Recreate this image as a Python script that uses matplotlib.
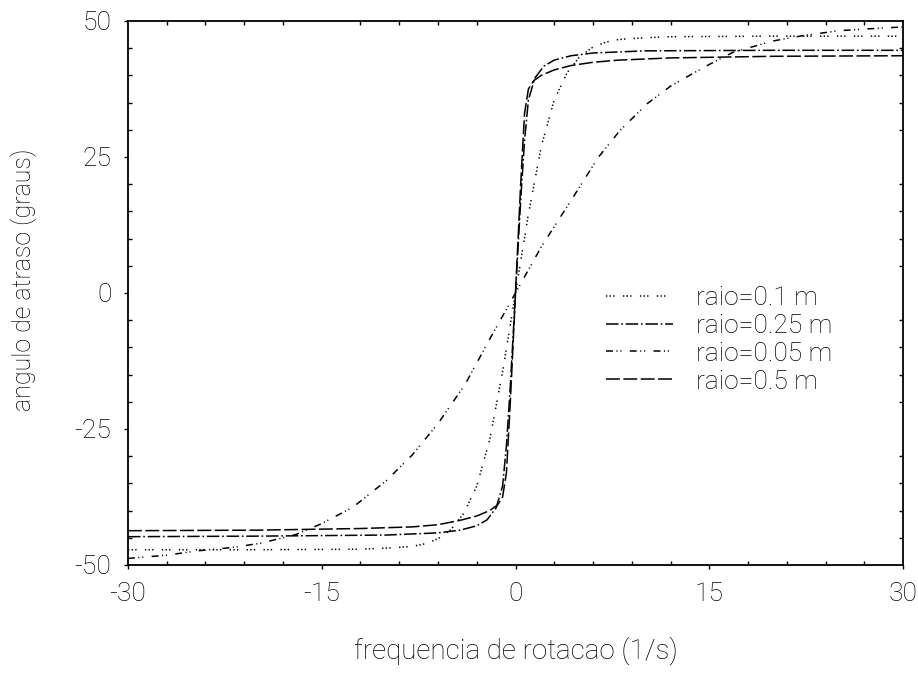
import matplotlib
matplotlib.use("Agg")
import matplotlib.pyplot as plt
from matplotlib.ticker import MultipleLocator

# --- data ------------------------------------------------------------------
x_r005 = [-30, -27, -24.6, -22, -19.7, -17, -15.1, -12.6, -10, -8, -6, -3.9, -2,
          0, 2, 4.3, 6.4, 8.1, 10.2, 12, 13.7, 15, 16.8, 19.9, 22, 25, 27, 30]
y_r005 = [-48.8, -48.2, -47.4, -46.8, -46.0, -44.4, -42.5, -39.4, -34.5, -29.8,
          -24.0, -16.8, -8.5, 0, 8.5, 17.0, 24.9, 29.9, 34.8, 38.0, 40.3, 42.0,
          44.2, 46.3, 47.2, 48.2, 48.5, 48.9]

x_r01 = [-30, -20, -12, -10, -8, -7, -6, -5, -4, -3, -2, -1, 0,
         1, 2, 3, 4, 5, 6, 7, 8, 10, 12, 20, 30]
y_r01 = [-47.2, -47.2, -47.1, -46.9, -46.6, -46.1, -45.2, -43.5, -40.5, -35.5,
         -27.0, -14.5, 0, 14.5, 27.0, 35.5, 40.5, 43.5, 45.2, 46.1, 46.6, 46.9,
         47.1, 47.2, 47.2]

x_r025 = [-30, -20, -10, -6, -4.3, -3, -2.2, -1.5, -1.0, -0.7, -0.4, 0,
          0.4, 0.7, 1.0, 1.5, 2.2, 3, 4.3, 6, 10, 20, 30]
y_r025 = [-44.8, -44.7, -44.5, -44.1, -43.6, -42.8, -41.7, -39.5, -35.5, -28.0,
          -17.0, 0, 17.0, 28.0, 35.5, 39.5, 41.7, 42.8, 43.6, 44.1, 44.5, 44.6,
          44.6]

x_r05 = [-30, -20, -12, -8, -6, -4.3, -3, -2, -1.4, -1.0, -0.7, -0.4, 0,
         0.4, 0.7, 1.0, 1.4, 2, 3, 4.3, 6, 8, 12, 20, 30]
y_r05 = [-43.7, -43.6, -43.3, -43.0, -42.6, -41.8, -41.0, -40.0, -39.0, -37.5,
         -33.0, -20.0, 0, 20.0, 33.0, 37.5, 39.0, 40.0, 41.0, 41.8, 42.4, 42.8,
         43.2, 43.5, 43.6]

labels = ["raio=0.1 m", "raio=0.25 m", "raio=0.05 m", "raio=0.5 m"]

x_ticks = [-30, -15, 0, 15, 30]
y_ticks = [-50, -25, 0, 25, 50]

# --- style -----------------------------------------------------------------
plt.rcParams["font.family"] = ["Roboto", "Liberation Sans", "DejaVu Sans"]
plt.rcParams["font.weight"] = "light"
plt.rcParams["axes.labelweight"] = "light"
plt.rcParams["axes.unicode_minus"] = False
plt.rcParams["lines.scale_dashes"] = False

fig = plt.figure(figsize=(9.18, 6.75), dpi=100)
ax = fig.add_axes([0.1394, 0.163, 0.8443, 0.806])

lw = 1.1
ax.plot(x_r01, y_r01, color="black", lw=lw, dashes=(1, 1.6, 1, 1.6, 1, 6), label=labels[0])
ax.plot(x_r025, y_r025, color="black", lw=lw, dashes=(9, 2, 1.2, 2), label=labels[1])
ax.plot(x_r005, y_r005, color="black", lw=lw, dashes=(5, 2.5, 0.8, 2, 0.8, 6), label=labels[2])
ax.plot(x_r05, y_r05, color="black", lw=lw, dashes=(10, 2.5), label=labels[3])

ax.set_xlim(-30, 30)
ax.set_ylim(-50, 50)
ax.set_xticks(x_ticks)
ax.set_yticks(y_ticks)
ax.set_xticklabels([str(v) for v in x_ticks])
ax.set_yticklabels([str(v) for v in y_ticks])
ax.xaxis.set_minor_locator(MultipleLocator(3))
ax.yaxis.set_minor_locator(MultipleLocator(5))

ax.tick_params(which="major", direction="out", length=3, width=1, pad=9,
               labelsize=19)
ax.tick_params(which="minor", direction="in", length=3, width=1,
               top=True, right=True)

for s in ax.spines.values():
    s.set_linewidth(1.3)

ax.set_xlabel("frequencia de rotacao (1/s)", fontsize=20, labelpad=22)
ax.set_ylabel("angulo de atraso (graus)", fontsize=18)
ax.yaxis.set_label_coords(-0.118, 0.525)

ax.legend(loc="center left", bbox_to_anchor=(0.617, 0.414), frameon=False,
          fontsize=19, handlelength=2.55, handletextpad=0.85, labelspacing=0.15,
          borderpad=0, borderaxespad=0)

fig.savefig("out.png", dpi=100)
